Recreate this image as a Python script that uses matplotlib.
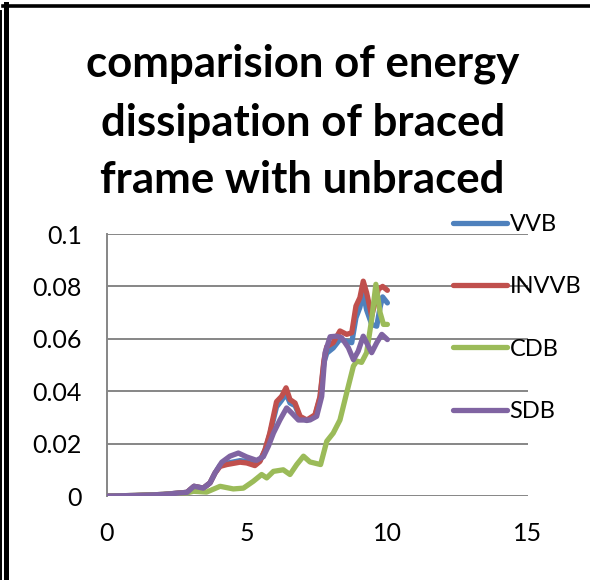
import matplotlib
matplotlib.use("Agg")
import matplotlib.pyplot as plt
from matplotlib.lines import Line2D

title_lines = ["comparision of energy", "dissipation of braced", "frame with unbraced"]
series_names = ["VVB", "INVVB", "CDB", "SDB"]
colors = ["#4F81BD", "#C0504D", "#9BBB59", "#8064A2"]
x_ticks = [0, 5, 10, 15]
y_ticks = [0, 0.02, 0.04, 0.06, 0.08, 0.1]
y_tick_labels = ["0", "0.02", "0.04", "0.06", "0.08", "0.1"]

vvb_x = [0, 1, 2, 2.85, 3.1, 3.43, 3.67, 3.85, 4.03, 4.27, 4.74, 4.98, 5.27, 5.45, 5.63, 5.8, 6.04, 6.22, 6.38,
         6.52, 6.7, 6.88, 7.12, 7.41, 7.59, 7.73, 7.83, 7.92, 8.06, 8.3, 8.54, 8.72, 8.87, 9.01, 9.13, 9.25,
         9.43, 9.61, 9.73, 9.82, 9.99]
vvb_y = [0, 0.0002, 0.0006, 0.0014, 0.0037, 0.003, 0.005, 0.0088, 0.0118, 0.0125, 0.0135, 0.0132, 0.012, 0.0135,
         0.0175, 0.0235, 0.034, 0.0365, 0.039, 0.0355, 0.0345, 0.0300, 0.0288, 0.0305, 0.0375, 0.051, 0.0545,
         0.0553, 0.0565, 0.0598, 0.059, 0.0585, 0.0680, 0.0720, 0.0776, 0.071, 0.0655, 0.0648, 0.072, 0.076, 0.0737]

invvb_x = [0, 1, 2, 2.85, 3.1, 3.43, 3.67, 3.85, 4.03, 4.27, 4.74, 4.98, 5.27, 5.45, 5.63, 5.8, 6.04, 6.22, 6.38,
           6.52, 6.7, 6.88, 7.12, 7.41, 7.59, 7.73, 7.83, 8.06, 8.3, 8.54, 8.72, 8.87, 9.01, 9.13, 9.25,
           9.43, 9.67, 9.82, 9.99]
invvb_y = [0, 0.0002, 0.0006, 0.0014, 0.0037, 0.003, 0.005, 0.0088, 0.0113, 0.012, 0.0129, 0.0126, 0.0116, 0.0132,
           0.0177, 0.024, 0.036, 0.038, 0.0413, 0.0368, 0.0355, 0.0304, 0.029, 0.031, 0.038, 0.052, 0.057, 0.0585,
           0.063, 0.0617, 0.0623, 0.0725, 0.0757, 0.082, 0.0776, 0.0687, 0.0789, 0.080, 0.0785]

cdb_x = [0, 1, 2, 2.85, 3.08, 3.55, 4.03, 4.5, 4.86, 5.21, 5.51, 5.69, 5.93, 6.28, 6.52, 6.76, 7.0, 7.23, 7.61,
         7.83, 8.06, 8.3, 8.54, 8.78, 8.9, 9.07, 9.25, 9.43, 9.58, 9.73, 9.85, 9.99]
cdb_y = [0, 0.0002, 0.0006, 0.0012, 0.0018, 0.0015, 0.0037, 0.0027, 0.003, 0.0056, 0.0082, 0.0069, 0.0094, 0.010,
         0.0082, 0.012, 0.0152, 0.013, 0.012, 0.0209, 0.024, 0.029, 0.0394, 0.0496, 0.0515, 0.051, 0.0547,
         0.0674, 0.0808, 0.070, 0.0655, 0.0655]

sdb_x = [0, 1, 2, 2.85, 3.1, 3.43, 3.67, 3.85, 4.09, 4.38, 4.68, 4.98, 5.33, 5.57, 5.75, 5.93, 6.16, 6.4, 6.58,
         6.82, 7.0, 7.23, 7.47, 7.65, 7.77, 7.95, 8.18, 8.36, 8.6, 8.78, 8.95, 9.13, 9.25, 9.43, 9.61, 9.79, 9.99]
sdb_y = [0, 0.0002, 0.0006, 0.0014, 0.0037, 0.003, 0.005, 0.0088, 0.0129, 0.0152, 0.0164, 0.0149, 0.0136, 0.015,
         0.019, 0.024, 0.029, 0.0336, 0.0317, 0.029, 0.029, 0.029, 0.0304, 0.038, 0.0547, 0.0608, 0.061, 0.0604,
         0.0566, 0.052, 0.0553, 0.061, 0.0585, 0.0547, 0.0585, 0.0617, 0.0597]

xs = [vvb_x, invvb_x, cdb_x, sdb_x]
ys = [vvb_y, invvb_y, cdb_y, sdb_y]

plt.rcParams['font.family'] = ['Lato', 'DejaVu Sans']

fig = plt.figure(figsize=(5.9, 5.8), dpi=100)
ax = fig.add_axes([107 / 590, 1 - 496 / 580, (528 - 107) / 590, (496 - 234) / 580])

lines = []
for x, y, name, c in zip(xs, ys, series_names, colors):
    ln, = ax.plot(x, y, color=c, lw=3.8, label=name, solid_capstyle='round', solid_joinstyle='round', zorder=3)
    lines.append(ln)

ax.set_xlim(0, 15)
ax.set_ylim(0, 0.1)
ax.set_xticks(x_ticks)
ax.set_xticklabels([str(t) for t in x_ticks])
ax.set_yticks(y_ticks)
ax.set_yticklabels(y_tick_labels)
ax.grid(axis='y', color='#868686', lw=1.4, zorder=1)
ax.set_axisbelow(True)
for s in ['top', 'right', 'bottom']:
    ax.spines[s].set_visible(False)
ax.spines['left'].set_color('#868686')
ax.spines['left'].set_linewidth(1.4)
ax.tick_params(axis='both', length=0, labelsize=18)
ax.tick_params(axis='x', pad=19)
ax.tick_params(axis='y', pad=18)

leg = fig.legend(handles=lines, labels=series_names, loc='upper left',
                 bbox_to_anchor=(453 / 590, 1 - 214 / 580), frameon=False, fontsize=17,
                 handlelength=2.3, handletextpad=0.1, labelspacing=1.75, borderpad=0, borderaxespad=0)

for line_text, base in zip(title_lines, [77, 136, 193]):
    fig.text(0.513, 1 - base / 580, line_text, ha='center', va='baseline', fontsize=31.5,
             fontweight='bold')

fig.add_artist(Line2D([3 / 590, 1], [1 - 5.5 / 580, 1 - 5.5 / 580], color='black', lw=2.6))
fig.add_artist(Line2D([5.5 / 590, 5.5 / 590], [0, 1 - 4 / 580], color='black', lw=3.6))
fig.add_artist(Line2D([1 / 590, 1 / 590], [0, 1 - 11 / 580], color='black', lw=1.4))

fig.savefig("out.png", dpi=100)
